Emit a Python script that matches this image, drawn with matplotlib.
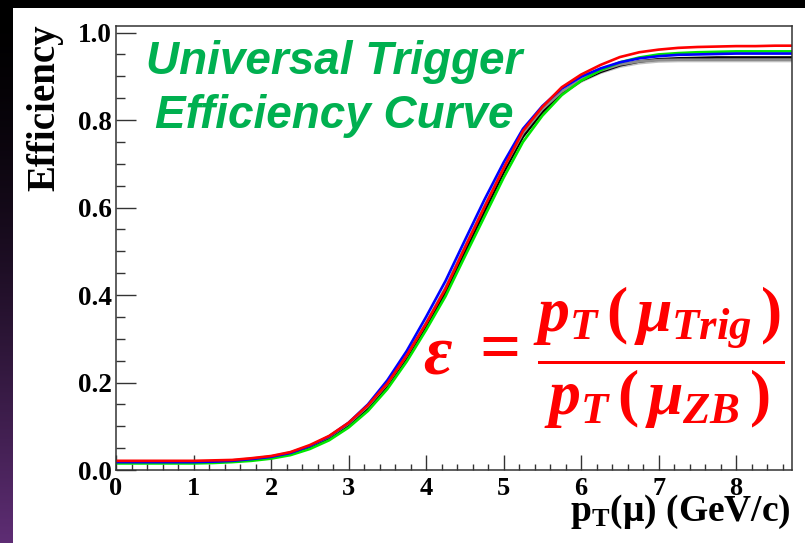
import matplotlib.pyplot as plt
import numpy as np
from matplotlib.colors import LinearSegmentedColormap
from matplotlib.patches import Rectangle
from matplotlib.ticker import MultipleLocator

# pT bin centres (GeV/c)
pt = np.arange(0, 8.76, 0.25)

# trigger efficiency per sample
eff_black = [0.017, 0.017, 0.017, 0.017, 0.017, 0.018, 0.020, 0.024, 0.029, 0.037,
             0.052, 0.072, 0.102, 0.141, 0.192, 0.256, 0.328, 0.406, 0.498, 0.590,
             0.680, 0.762, 0.818, 0.860, 0.890, 0.910, 0.925, 0.934, 0.939, 0.941,
             0.942, 0.943, 0.943, 0.943, 0.943, 0.943]
eff_silver = [0.018, 0.018, 0.018, 0.018, 0.018, 0.019, 0.021, 0.025, 0.030, 0.038,
              0.053, 0.074, 0.104, 0.144, 0.195, 0.259, 0.332, 0.412, 0.504, 0.596,
              0.686, 0.766, 0.820, 0.860, 0.888, 0.908, 0.922, 0.930, 0.934, 0.935,
              0.935, 0.935, 0.935, 0.935, 0.935, 0.935]
eff_gray = [0.019, 0.019, 0.019, 0.019, 0.019, 0.020, 0.022, 0.026, 0.031, 0.040,
            0.055, 0.076, 0.106, 0.146, 0.197, 0.262, 0.336, 0.417, 0.510, 0.602,
            0.690, 0.770, 0.825, 0.865, 0.893, 0.913, 0.927, 0.934, 0.937, 0.938,
            0.938, 0.938, 0.938, 0.938, 0.938, 0.938]
eff_green = [0.015, 0.015, 0.015, 0.015, 0.015, 0.016, 0.018, 0.021, 0.026, 0.034,
             0.048, 0.068, 0.097, 0.135, 0.185, 0.248, 0.320, 0.397, 0.488, 0.578,
             0.668, 0.750, 0.810, 0.857, 0.890, 0.914, 0.932, 0.943, 0.950, 0.953,
             0.955, 0.956, 0.957, 0.957, 0.957, 0.957]
eff_blue = [0.018, 0.018, 0.018, 0.018, 0.018, 0.019, 0.021, 0.025, 0.030, 0.039,
            0.055, 0.077, 0.108, 0.150, 0.205, 0.272, 0.350, 0.432, 0.525, 0.617,
            0.703, 0.780, 0.832, 0.872, 0.899, 0.918, 0.932, 0.941, 0.946, 0.949,
            0.950, 0.951, 0.952, 0.952, 0.952, 0.952]
eff_red = [0.021, 0.021, 0.021, 0.021, 0.021, 0.022, 0.023, 0.027, 0.032, 0.041,
           0.057, 0.078, 0.108, 0.148, 0.198, 0.262, 0.335, 0.414, 0.508, 0.600,
           0.690, 0.775, 0.830, 0.875, 0.904, 0.926, 0.944, 0.955, 0.961, 0.965,
           0.967, 0.968, 0.969, 0.969, 0.970, 0.970]

series = [
    (eff_silver, "#c0c0c0"),
    (eff_black, "black"),
    (eff_gray, "#8c8c8c"),
    (eff_green, "#00e600"),
    (eff_blue, "#0000ff"),
    (eff_red, "#ff0000"),
]

xticks = list(range(9))
yticks = [0.0, 0.2, 0.4, 0.6, 0.8, 1.0]

plt.rcParams.update({
    "font.family": "Liberation Serif",
    "font.weight": "bold",
    "mathtext.fontset": "custom",
    "mathtext.rm": "Liberation Serif:bold",
    "mathtext.bf": "Liberation Serif:bold",
    "mathtext.it": "Liberation Serif:bold:italic",
})

W, H = 805, 543
fig = plt.figure(figsize=(W / 100, H / 100), dpi=100, facecolor="black")

# slide background: white panel, purple gradient strip on the left
fig.patches.append(Rectangle((12 / W, 0), 1 - 12 / W, 535 / H, transform=fig.transFigure,
                             facecolor="white", edgecolor="none", zorder=-5))
ax_bg = fig.add_axes([0, 0, 12 / W, 1])
grad = np.linspace(0, 1, 256).reshape(-1, 1) ** 1.6
cmap = LinearSegmentedColormap.from_list("slide", ["black", "#5e2d74"])
ax_bg.imshow(grad, aspect="auto", cmap=cmap, origin="upper")
ax_bg.axis("off")

ax = fig.add_axes([116 / W, (H - 470) / H, (792 - 116) / W, (470 - 26) / H])
ax.set_facecolor("white")

for vals, c in series:
    ax.plot(pt, vals, color=c, lw=1.9, solid_joinstyle="round")

ax.set_xlim(0, 8.72)
ax.set_ylim(0, 1.015)
ax.set_xticks(xticks)
ax.set_xticklabels([str(t) for t in xticks])
ax.set_yticks(yticks)
ax.set_yticklabels([f"{t:.1f}" for t in yticks])
ax.xaxis.set_minor_locator(MultipleLocator(0.2))
ax.yaxis.set_minor_locator(MultipleLocator(0.05))

ax.tick_params(axis="both", which="both", direction="in", color="#333333",
               width=1.0, top=False, right=False)
ax.tick_params(axis="x", which="major", length=11, labelsize=19, pad=5)
ax.tick_params(axis="x", which="minor", length=4.5)
ax.tick_params(axis="y", which="major", length=14.5, labelsize=19.5, pad=3)
ax.tick_params(axis="y", which="minor", length=6.5)
for sp in ax.spines.values():
    sp.set_color("#333333")
    sp.set_linewidth(1.1)

fig.text(45 / W, 1 - 24 / H, "Efficiency", rotation=90, ha="center", va="top",
         fontsize=28, fontweight="bold")
fig.text(791 / W, 1 - 521 / H, r"$\mathrm{p_{T}(\mu)\ (GeV/c)}$", ha="right",
         va="baseline", fontsize=27)

fig.text(334 / W, 1 - 128 / H, "Universal Trigger\nEfficiency Curve", ha="center",
         va="baseline", multialignment="center", family="Liberation Sans",
         fontweight="bold", style="italic", fontsize=33, color="#00b050",
         linespacing=1.28)

# efficiency definition
fig.text(423 / W, 1 - 356 / H, r"$\varepsilon$", ha="left", va="center",
         fontsize=50, color="#ff0000")
fig.text(500 / W, 1 - 352 / H, "=", ha="center", va="center",
         fontsize=52, color="#ff0000")
fig.text(533 / W, 1 - 358 / H,
         r"$\dfrac{p_{T}\,(\,\mu_{Trig}\,)}{p_{T}\,(\,\mu_{ZB}\,)}$",
         ha="left", va="center", fontsize=46, color="#ff0000")

fig.savefig("out.png", dpi=100, facecolor=fig.get_facecolor())
